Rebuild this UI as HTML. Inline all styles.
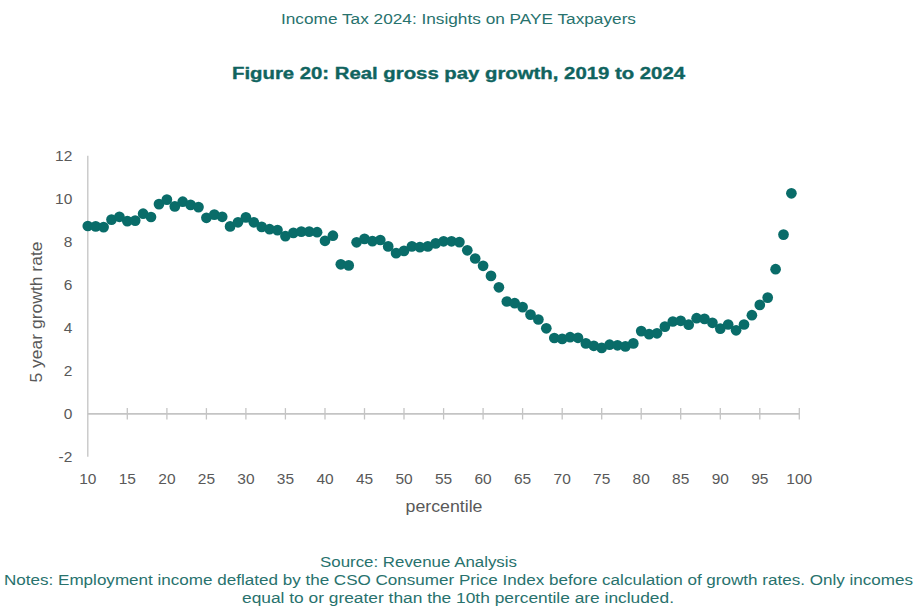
<!DOCTYPE html>
<html><head><meta charset="utf-8"><style>
html,body{margin:0;padding:0;background:#fff;}
svg{display:block;}
text{font-family:"Liberation Sans",sans-serif;}
.ax{font-size:15.5px;fill:#595959;}
.t1{font-size:15.4px;fill:#28726D;}
.t2{font-size:16px;font-weight:bold;fill:#10645F;stroke:#10645F;stroke-width:0.35px;}
.nt{font-size:15.4px;fill:#28726D;}
</style></head><body>
<svg width="923" height="614" viewBox="0 0 923 614">
<text x="281" y="23.9" class="t1" textLength="355" lengthAdjust="spacingAndGlyphs">Income Tax 2024: Insights on PAYE Taxpayers</text>
<text x="232" y="78.6" class="t2" textLength="453" lengthAdjust="spacingAndGlyphs">Figure 20: Real gross pay growth, 2019 to 2024</text>
<line x1="87.8" y1="155.7" x2="87.8" y2="456.7" stroke="#C4C4C4" stroke-width="1.3"/>
<line x1="87.8" y1="413.9" x2="799.3" y2="413.9" stroke="#C4C4C4" stroke-width="1.7"/>
<line x1="127.3" y1="408.09999999999997" x2="127.3" y2="419.5" stroke="#C4C4C4" stroke-width="1.3"/>
<line x1="166.9" y1="408.09999999999997" x2="166.9" y2="419.5" stroke="#C4C4C4" stroke-width="1.3"/>
<line x1="206.4" y1="408.09999999999997" x2="206.4" y2="419.5" stroke="#C4C4C4" stroke-width="1.3"/>
<line x1="245.9" y1="408.09999999999997" x2="245.9" y2="419.5" stroke="#C4C4C4" stroke-width="1.3"/>
<line x1="285.4" y1="408.09999999999997" x2="285.4" y2="419.5" stroke="#C4C4C4" stroke-width="1.3"/>
<line x1="325.0" y1="408.09999999999997" x2="325.0" y2="419.5" stroke="#C4C4C4" stroke-width="1.3"/>
<line x1="364.5" y1="408.09999999999997" x2="364.5" y2="419.5" stroke="#C4C4C4" stroke-width="1.3"/>
<line x1="404.0" y1="408.09999999999997" x2="404.0" y2="419.5" stroke="#C4C4C4" stroke-width="1.3"/>
<line x1="443.6" y1="408.09999999999997" x2="443.6" y2="419.5" stroke="#C4C4C4" stroke-width="1.3"/>
<line x1="483.1" y1="408.09999999999997" x2="483.1" y2="419.5" stroke="#C4C4C4" stroke-width="1.3"/>
<line x1="522.6" y1="408.09999999999997" x2="522.6" y2="419.5" stroke="#C4C4C4" stroke-width="1.3"/>
<line x1="562.2" y1="408.09999999999997" x2="562.2" y2="419.5" stroke="#C4C4C4" stroke-width="1.3"/>
<line x1="601.7" y1="408.09999999999997" x2="601.7" y2="419.5" stroke="#C4C4C4" stroke-width="1.3"/>
<line x1="641.2" y1="408.09999999999997" x2="641.2" y2="419.5" stroke="#C4C4C4" stroke-width="1.3"/>
<line x1="680.7" y1="408.09999999999997" x2="680.7" y2="419.5" stroke="#C4C4C4" stroke-width="1.3"/>
<line x1="720.3" y1="408.09999999999997" x2="720.3" y2="419.5" stroke="#C4C4C4" stroke-width="1.3"/>
<line x1="759.8" y1="408.09999999999997" x2="759.8" y2="419.5" stroke="#C4C4C4" stroke-width="1.3"/>
<line x1="799.3" y1="408.09999999999997" x2="799.3" y2="419.5" stroke="#C4C4C4" stroke-width="1.3"/>
<text x="72.3" y="462.0" text-anchor="end" class="ax">-2</text>
<text x="72.3" y="419.0" text-anchor="end" class="ax">0</text>
<text x="72.3" y="376.0" text-anchor="end" class="ax">2</text>
<text x="72.3" y="333.0" text-anchor="end" class="ax">4</text>
<text x="72.3" y="290.0" text-anchor="end" class="ax">6</text>
<text x="72.3" y="247.0" text-anchor="end" class="ax">8</text>
<text x="72.3" y="204.0" text-anchor="end" class="ax">10</text>
<text x="72.3" y="161.0" text-anchor="end" class="ax">12</text>
<text x="87.8" y="484.0" text-anchor="middle" class="ax">10</text>
<text x="127.3" y="484.0" text-anchor="middle" class="ax">15</text>
<text x="166.9" y="484.0" text-anchor="middle" class="ax">20</text>
<text x="206.4" y="484.0" text-anchor="middle" class="ax">25</text>
<text x="245.9" y="484.0" text-anchor="middle" class="ax">30</text>
<text x="285.4" y="484.0" text-anchor="middle" class="ax">35</text>
<text x="325.0" y="484.0" text-anchor="middle" class="ax">40</text>
<text x="364.5" y="484.0" text-anchor="middle" class="ax">45</text>
<text x="404.0" y="484.0" text-anchor="middle" class="ax">50</text>
<text x="443.6" y="484.0" text-anchor="middle" class="ax">55</text>
<text x="483.1" y="484.0" text-anchor="middle" class="ax">60</text>
<text x="522.6" y="484.0" text-anchor="middle" class="ax">65</text>
<text x="562.2" y="484.0" text-anchor="middle" class="ax">70</text>
<text x="601.7" y="484.0" text-anchor="middle" class="ax">75</text>
<text x="641.2" y="484.0" text-anchor="middle" class="ax">80</text>
<text x="680.7" y="484.0" text-anchor="middle" class="ax">85</text>
<text x="720.3" y="484.0" text-anchor="middle" class="ax">90</text>
<text x="759.8" y="484.0" text-anchor="middle" class="ax">95</text>
<text x="799.3" y="484.0" text-anchor="middle" class="ax">100</text>
<g fill="#096C69">
<circle cx="87.8" cy="226.0" r="5.35"/>
<circle cx="95.7" cy="226.4" r="5.35"/>
<circle cx="103.6" cy="227.1" r="5.35"/>
<circle cx="111.5" cy="219.6" r="5.35"/>
<circle cx="119.4" cy="216.8" r="5.35"/>
<circle cx="127.3" cy="221.1" r="5.35"/>
<circle cx="135.2" cy="220.6" r="5.35"/>
<circle cx="143.1" cy="213.7" r="5.35"/>
<circle cx="151.0" cy="217.0" r="5.35"/>
<circle cx="159.0" cy="204.1" r="5.35"/>
<circle cx="166.9" cy="199.6" r="5.35"/>
<circle cx="174.8" cy="206.4" r="5.35"/>
<circle cx="182.7" cy="201.7" r="5.35"/>
<circle cx="190.6" cy="204.9" r="5.35"/>
<circle cx="198.5" cy="207.1" r="5.35"/>
<circle cx="206.4" cy="217.8" r="5.35"/>
<circle cx="214.3" cy="214.6" r="5.35"/>
<circle cx="222.2" cy="216.8" r="5.35"/>
<circle cx="230.1" cy="226.4" r="5.35"/>
<circle cx="238.0" cy="222.3" r="5.35"/>
<circle cx="245.9" cy="217.4" r="5.35"/>
<circle cx="253.8" cy="222.3" r="5.35"/>
<circle cx="261.7" cy="226.9" r="5.35"/>
<circle cx="269.6" cy="229.2" r="5.35"/>
<circle cx="277.5" cy="230.1" r="5.35"/>
<circle cx="285.4" cy="236.1" r="5.35"/>
<circle cx="293.4" cy="232.9" r="5.35"/>
<circle cx="301.3" cy="231.6" r="5.35"/>
<circle cx="309.2" cy="231.6" r="5.35"/>
<circle cx="317.1" cy="232.2" r="5.35"/>
<circle cx="325.0" cy="240.8" r="5.35"/>
<circle cx="332.9" cy="235.7" r="5.35"/>
<circle cx="340.8" cy="264.3" r="5.35"/>
<circle cx="348.7" cy="265.4" r="5.35"/>
<circle cx="356.6" cy="242.3" r="5.35"/>
<circle cx="364.5" cy="238.9" r="5.35"/>
<circle cx="372.4" cy="241.1" r="5.35"/>
<circle cx="380.3" cy="240.0" r="5.35"/>
<circle cx="388.2" cy="246.4" r="5.35"/>
<circle cx="396.1" cy="253.1" r="5.35"/>
<circle cx="404.0" cy="250.9" r="5.35"/>
<circle cx="411.9" cy="246.4" r="5.35"/>
<circle cx="419.9" cy="247.1" r="5.35"/>
<circle cx="427.8" cy="246.4" r="5.35"/>
<circle cx="435.7" cy="243.4" r="5.35"/>
<circle cx="443.6" cy="241.3" r="5.35"/>
<circle cx="451.5" cy="241.3" r="5.35"/>
<circle cx="459.4" cy="242.1" r="5.35"/>
<circle cx="467.3" cy="250.3" r="5.35"/>
<circle cx="475.2" cy="258.5" r="5.35"/>
<circle cx="483.1" cy="265.8" r="5.35"/>
<circle cx="491.0" cy="275.9" r="5.35"/>
<circle cx="498.9" cy="287.3" r="5.35"/>
<circle cx="506.8" cy="301.5" r="5.35"/>
<circle cx="514.7" cy="303.2" r="5.35"/>
<circle cx="522.6" cy="307.1" r="5.35"/>
<circle cx="530.5" cy="314.6" r="5.35"/>
<circle cx="538.4" cy="319.5" r="5.35"/>
<circle cx="546.3" cy="328.3" r="5.35"/>
<circle cx="554.3" cy="338.0" r="5.35"/>
<circle cx="562.2" cy="338.9" r="5.35"/>
<circle cx="570.1" cy="337.2" r="5.35"/>
<circle cx="578.0" cy="337.8" r="5.35"/>
<circle cx="585.9" cy="343.4" r="5.35"/>
<circle cx="593.8" cy="345.8" r="5.35"/>
<circle cx="601.7" cy="347.9" r="5.35"/>
<circle cx="609.6" cy="344.7" r="5.35"/>
<circle cx="617.5" cy="345.3" r="5.35"/>
<circle cx="625.4" cy="346.4" r="5.35"/>
<circle cx="633.3" cy="343.4" r="5.35"/>
<circle cx="641.2" cy="331.1" r="5.35"/>
<circle cx="649.1" cy="334.1" r="5.35"/>
<circle cx="657.0" cy="333.3" r="5.35"/>
<circle cx="664.9" cy="326.6" r="5.35"/>
<circle cx="672.8" cy="321.5" r="5.35"/>
<circle cx="680.7" cy="320.8" r="5.35"/>
<circle cx="688.7" cy="324.7" r="5.35"/>
<circle cx="696.6" cy="318.2" r="5.35"/>
<circle cx="704.5" cy="318.9" r="5.35"/>
<circle cx="712.4" cy="322.8" r="5.35"/>
<circle cx="720.3" cy="328.6" r="5.35"/>
<circle cx="728.2" cy="324.5" r="5.35"/>
<circle cx="736.1" cy="330.3" r="5.35"/>
<circle cx="744.0" cy="324.5" r="5.35"/>
<circle cx="751.9" cy="315.2" r="5.35"/>
<circle cx="759.8" cy="304.9" r="5.35"/>
<circle cx="767.7" cy="297.6" r="5.35"/>
<circle cx="775.6" cy="269.2" r="5.35"/>
<circle cx="783.5" cy="234.6" r="5.35"/>
<circle cx="791.4" cy="193.3" r="5.35"/>
</g>
<text transform="translate(41.6,382.5) rotate(-90)" x="0" y="0" class="ax" style="font-size:16.5px" textLength="141" lengthAdjust="spacingAndGlyphs">5 year growth rate</text>
<text x="405.5" y="511.5" class="ax" style="font-size:16.5px" textLength="77" lengthAdjust="spacingAndGlyphs">percentile</text>
<text x="320" y="566.5" class="nt" textLength="197" lengthAdjust="spacingAndGlyphs">Source: Revenue Analysis</text>
<text x="4" y="584.8" class="nt" textLength="909" lengthAdjust="spacingAndGlyphs">Notes: Employment income deflated by the CSO Consumer Price Index before calculation of growth rates. Only incomes</text>
<text x="242" y="602.8" class="nt" textLength="432" lengthAdjust="spacingAndGlyphs">equal to or greater than the 10th percentile are included.</text>
</svg>
</body></html>
